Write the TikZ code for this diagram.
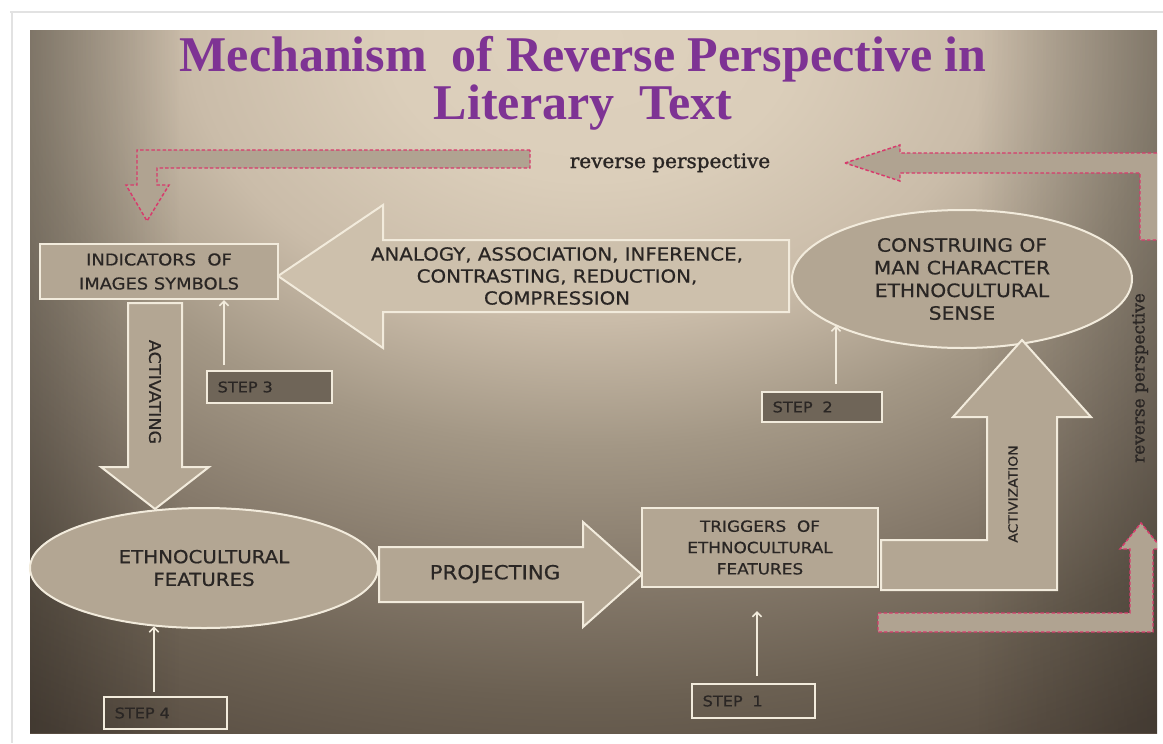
\documentclass[tikz,border=0pt]{standalone}
\usepackage{fontspec}
\setmainfont{DejaVu Sans}
\newfontfamily\boxfont[FakeStretch=1.1,FakeBold=0.6]{DejaVu Sans}
\newfontfamily\titlefont{Liberation Serif}
\newfontfamily\notefont[FakeBold=1.2]{DejaVu Serif}
\usetikzlibrary{arrows.meta,calc,fadings,shapes.geometric}

\definecolor{titlepurple}{HTML}{7E3394}
\definecolor{ink}{HTML}{2A2624}
\definecolor{edge}{HTML}{F2EBDC}
\definecolor{boxfill}{HTML}{B3A693}
\definecolor{bigfill}{HTML}{CDC0AC}
\definecolor{stepfill}{HTML}{6F6558}
\definecolor{dashred}{HTML}{D83A6C}
\definecolor{dashfill}{HTML}{B0A391}
\definecolor{pageline}{HTML}{E2E2E2}
\definecolor{bgA}{HTML}{DED1BD}
\definecolor{bgB}{HTML}{DBCEBA}
\definecolor{bgC}{HTML}{CABCA9}
\definecolor{bgD}{HTML}{A39785}
\definecolor{bgE}{HTML}{877B6C}
\definecolor{bgF}{HTML}{6B6052}
\definecolor{bgG}{HTML}{574C41}
\definecolor{bgH}{HTML}{4A4037}

% soft elliptical glow of the slide background
\pgfdeclareradialshading{panelshade}{\pgfpointorigin}{%
  color(0bp)=(bgA); color(5bp)=(bgB); color(10bp)=(bgC); color(14.5bp)=(bgD);
  color(19bp)=(bgE); color(23.5bp)=(bgF); color(28bp)=(bgG); color(40bp)=(bgH)}

\begin{document}
\begin{tikzpicture}[x=0.75pt, y=-0.75pt,
  blockarrow/.style={fill=boxfill, draw=edge, line width=1.5pt},
  dasharrow/.style={fill=dashfill, draw=dashred, line width=1.1pt, dash pattern=on 2.6pt off 1.6pt},
  boxnode/.style={rectangle, fill=boxfill, draw=edge, line width=1.5pt, inner sep=0pt, align=center, text=ink},
  ellnode/.style={ellipse, fill=boxfill, draw=edge, line width=1.5pt, inner sep=0pt, align=center, text=ink},
  stepbox/.style={rectangle, draw=edge, line width=1.5pt, inner xsep=8pt, inner ysep=0pt, align=left, text=ink,
    font=\boxfont\fontsize{11}{13}\selectfont},
  pointer/.style={draw=edge, line width=1.2pt, -{Straight Barb[length=3.5pt,width=7pt]}},
  flowtext/.style={text=ink, inner sep=0pt, align=center},
  titletext/.style={font=\titlefont\bfseries\fontsize{37.5}{40}\selectfont, text=titlepurple, anchor=base, inner sep=0pt},
  notetext/.style={text=ink, inner sep=0pt}]

\useasboundingbox (0,0) rectangle (1163,743);
\fill[white] (0,0) rectangle (1163,743);
\draw[pageline, line width=0.8pt] (10,12) -- (1163,12);
\draw[pageline, line width=0.8pt] (12,12) -- (12,743);

% slide background
\begin{scope}
  \clip (30,30) rectangle (1157,733);
  \path[shading=panelshade] (-410,-660) rectangle (1590,740);
  \fill[black, opacity=0.24, path fading=east] (30,30) rectangle (180,733);
  \fill[black, opacity=0.22, path fading=west] (977,30) rectangle (1157,733);
  % dashed "reverse perspective" arrows
  \draw[dasharrow] (530,150) -- (137,150) -- (137,185) -- (126,185) -- (147,221)
    -- (169,185) -- (157,185) -- (157,168) -- (530,168) -- cycle;
  \draw[dasharrow] (845,163) -- (900,145) -- (900,153) -- (1170,153) -- (1170,240)
    -- (1140,240) -- (1140,173) -- (900,173) -- (900,181) -- cycle;
  \draw[dasharrow] (878,613) -- (1130,613) -- (1130,549) -- (1120,549) -- (1141,523)
    -- (1162,549) -- (1153,549) -- (1153,632) -- (878,632) -- cycle;
\end{scope}

% title
\node[titletext] (t1) at (583,71) {Mechanism\ \ of Reverse Perspective in};
\node[titletext] (t2) at (583,119) {Literary\ \ Text};

\node[notetext, anchor=base, font=\notefont\fontsize{15}{17}\selectfont] (rp1) at (670,168) {reverse perspective};
\node[notetext, rotate=90, font=\notefont\fontsize{12.7}{15}\selectfont] (rp2) at (1140,378) {reverse perspective};

% big arrow towards the indicators
\draw[blockarrow, fill=bigfill] (278,276) -- (383,205) -- (383,240) -- (789,240) -- (789,312)
  -- (383,312) -- (383,348) -- cycle;
\node[flowtext, font=\boxfont\fontsize{13.5}{16.5}\selectfont] (ana) at (557,276)
  {ANALOGY, ASSOCIATION, INFERENCE,\\CONTRASTING, REDUCTION,\\COMPRESSION};

\node[boxnode, minimum width=178.5pt, minimum height=41.25pt, font=\boxfont\fontsize{12.2}{18}\selectfont]
  (ind) at (159,271.5) {INDICATORS\ \ OF\\IMAGES SYMBOLS};

% activating
\draw[blockarrow] (128,303) -- (182,303) -- (182,467) -- (209,467) -- (155,509) -- (101,467)
  -- (128,467) -- cycle;
\node[flowtext, rotate=-90, font=\boxfont\fontsize{12}{14}\selectfont] (actv) at (155,392) {ACTIVATING};

\node[ellnode, minimum width=261pt, minimum height=90pt, font=\boxfont\fontsize{13.5}{17}\selectfont]
  (eth) at (204,568) {ETHNOCULTURAL\\FEATURES};

% projecting
\draw[blockarrow] (379,547) -- (583,547) -- (583,522) -- (642,574.5) -- (583,627) -- (583,602)
  -- (379,602) -- cycle;
\node[flowtext, font=\boxfont\fontsize{14.5}{17}\selectfont] (proj) at (495,574) {PROJECTING};

\node[boxnode, minimum width=177pt, minimum height=59.25pt, font=\boxfont\fontsize{11.5}{16}\selectfont]
  (trig) at (760,547.5) {TRIGGERS\ \ OF\\ETHNOCULTURAL\\FEATURES};

\node[ellnode, minimum width=255pt, minimum height=103.5pt, font=\boxfont\fontsize{13.8}{17}\selectfont]
  (cons) at (962,279) {CONSTRUING OF\\MAN CHARACTER\\ETHNOCULTURAL\\SENSE};

% activization
\draw[blockarrow] (881,540) -- (987,540) -- (987,417) -- (953,417) -- (1022,340) -- (1091,417)
  -- (1057,417) -- (1057,590) -- (881,590) -- cycle;
\node[flowtext, rotate=90, font=\boxfont\fontsize{9.5}{11}\selectfont] (actz) at (1013,494) {ACTIVIZATION};

% steps
\node[stepbox, fill=stepfill, text width=77.75pt, minimum height=24pt] (s3) at (269.5,387) {STEP 3};
\node[stepbox, fill=stepfill, text width=74pt, minimum height=22.5pt] (s2) at (822,407) {STEP\ \ 2};
\node[stepbox, text width=76.25pt, minimum height=25.5pt] (s1) at (753.5,701) {STEP\ \ 1};
\node[stepbox, text width=76.25pt, minimum height=24pt] (s4) at (165.5,713) {STEP 4};

\draw[pointer] ([shift={(18,-5)}]s3.north west) coordinate (p3) -- (p3 |- ind.south);
\draw[pointer] ([shift={(75,-7)}]s2.north west) coordinate (p2) -- (p2 |- cons.200.5);
\draw[pointer] ([shift={(66,-7)}]s1.north west) coordinate (p1) -- ($(p1 |- trig.south)+(0,23)$);
\draw[pointer] ([shift={(51,-4)}]s4.north west) coordinate (p4) -- (p4 |- eth.229.6);

\end{tikzpicture}
\end{document}
